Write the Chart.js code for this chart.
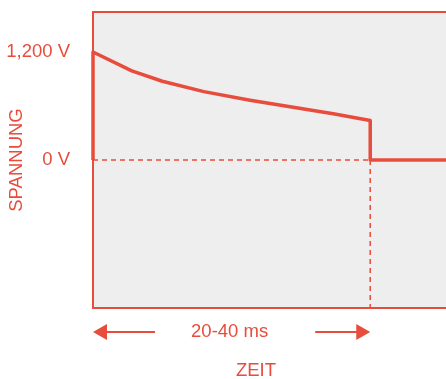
<!DOCTYPE html>
<html lang="de">
<head>
<meta charset="UTF-8">
<title>Spannung / Zeit</title>
<script src="https://cdn.jsdelivr.net/npm/chart.js"></script>
<style>
    * { margin: 0; padding: 0; box-sizing: border-box; }
    body { background: #ffffff; width: 446px; height: 379px; overflow: hidden; }
    #wrap { position: relative; width: 446px; height: 379px; }
</style>
</head>
<body>
<div id="wrap"><canvas id="chart"></canvas></div>
<script>
// Zeit in ms, Spannung in V
const timeMs   = [0, 0, 4.2, 7.5, 12, 17, 22, 26, 30, 30, 38.2];
const voltage  = [0, 1200, 990, 875, 760, 665, 580, 515, 440, 0, 0];
const refTime  = [0, 30];          // gestrichelte Nulllinie
const refZero  = [0, 0];
const dropTime = [30, 30];         // gestrichelte Senkrechte
const dropVolt = [0, -1645];
const yTicks   = [0, 1200];
const spanFrom = 0;
const spanTo   = 30;
const spanText = '20-40 ms';
const xTitle   = 'ZEIT';
const yTitle   = 'SPANNUNG';

const red = '#e74c3c';
const font = { family: 'Liberation Sans, Arial, sans-serif', size: 18.5 };

function toPoints(xs, ys) {
    return xs.map((x, i) => ({ x: x, y: ys[i] }));
}

// Hintergrund und Rahmen der Zeichenfläche
const frame = {
    id: 'frame',
    beforeDatasetsDraw(chart) {
        const { ctx, chartArea: a } = chart;
        ctx.save();
        ctx.fillStyle = '#eeeeee';
        ctx.fillRect(a.left, a.top, a.right - a.left, a.bottom - a.top);
        ctx.strokeStyle = red;
        ctx.lineWidth = 2;
        ctx.beginPath();
        ctx.moveTo(a.right, a.top);
        ctx.lineTo(a.left, a.top);
        ctx.lineTo(a.left, a.bottom);
        ctx.lineTo(a.right, a.bottom);
        ctx.stroke();
        ctx.restore();
    },
    afterDraw(chart) {
        const { ctx, chartArea: a } = chart;
        const x = chart.scales.x;
        const x0 = x.getPixelForValue(spanFrom);
        const x1 = x.getPixelForValue(spanTo);
        const yA = a.bottom + 24;
        ctx.save();
        ctx.fillStyle = red;
        ctx.strokeStyle = red;
        ctx.lineWidth = 2;
        // Pfeile
        ctx.beginPath();
        ctx.moveTo(x0 + 10, yA);
        ctx.lineTo(x0 + 62, yA);
        ctx.moveTo(x1 - 10, yA);
        ctx.lineTo(x1 - 55, yA);
        ctx.stroke();
        ctx.beginPath();
        ctx.moveTo(x0, yA);
        ctx.lineTo(x0 + 14, yA - 8);
        ctx.lineTo(x0 + 14, yA + 8);
        ctx.closePath();
        ctx.fill();
        ctx.beginPath();
        ctx.moveTo(x1, yA);
        ctx.lineTo(x1 - 14, yA - 8);
        ctx.lineTo(x1 - 14, yA + 8);
        ctx.closePath();
        ctx.fill();
        ctx.font = font.size + 'px ' + font.family;
        ctx.textAlign = 'center';
        ctx.textBaseline = 'middle';
        ctx.fillText(spanText, (x0 + x1) / 2 - 2, yA);
        ctx.fillText(xTitle, 256, a.bottom + 63);
        ctx.restore();
    }
};

new Chart(document.getElementById('chart'), {
    type: 'line',
    data: {
        datasets: [
            {
                data: toPoints(refTime, refZero),
                borderColor: red,
                borderWidth: 1.5,
                borderDash: [5, 4],
                pointRadius: 0,
                clip: false
            },
            {
                data: toPoints(dropTime, dropVolt),
                borderColor: red,
                borderWidth: 1.5,
                borderDash: [5, 4],
                pointRadius: 0,
                clip: false
            },
            {
                data: toPoints(timeMs, voltage),
                borderColor: red,
                borderWidth: 3.5,
                borderJoinStyle: 'round',
                pointRadius: 0,
                tension: 0,
                clip: false
            }
        ]
    },
    options: {
        responsive: true,
        maintainAspectRatio: false,
        animation: false,
        events: [],
        layout: { padding: { top: 12, bottom: 71, left: 0, right: 0 } },
        plugins: { legend: { display: false }, tooltip: { enabled: false } },
        scales: {
            x: {
                type: 'linear',
                display: false,
                min: 0,
                max: 38.2
            },
            y: {
                type: 'linear',
                min: -1645,
                max: 1645,
                grid: { display: false, drawTicks: false },
                border: { display: false },
                afterBuildTicks(scale) {
                    scale.ticks = yTicks.map(v => ({ value: v }));
                },
                afterFit(scale) {
                    scale.width = 93;
                    scale.paddingTop = 0;
                    scale.paddingBottom = 0;
                },
                ticks: {
                    color: red,
                    font: font,
                    padding: 23,
                    callback: v => v.toLocaleString('en-US') + ' V'
                },
                title: {
                    display: true,
                    text: yTitle,
                    color: red,
                    font: font,
                    padding: { top: 6, bottom: 0 }
                }
            }
        }
    },
    plugins: [frame]
});
</script>
</body>
</html>
